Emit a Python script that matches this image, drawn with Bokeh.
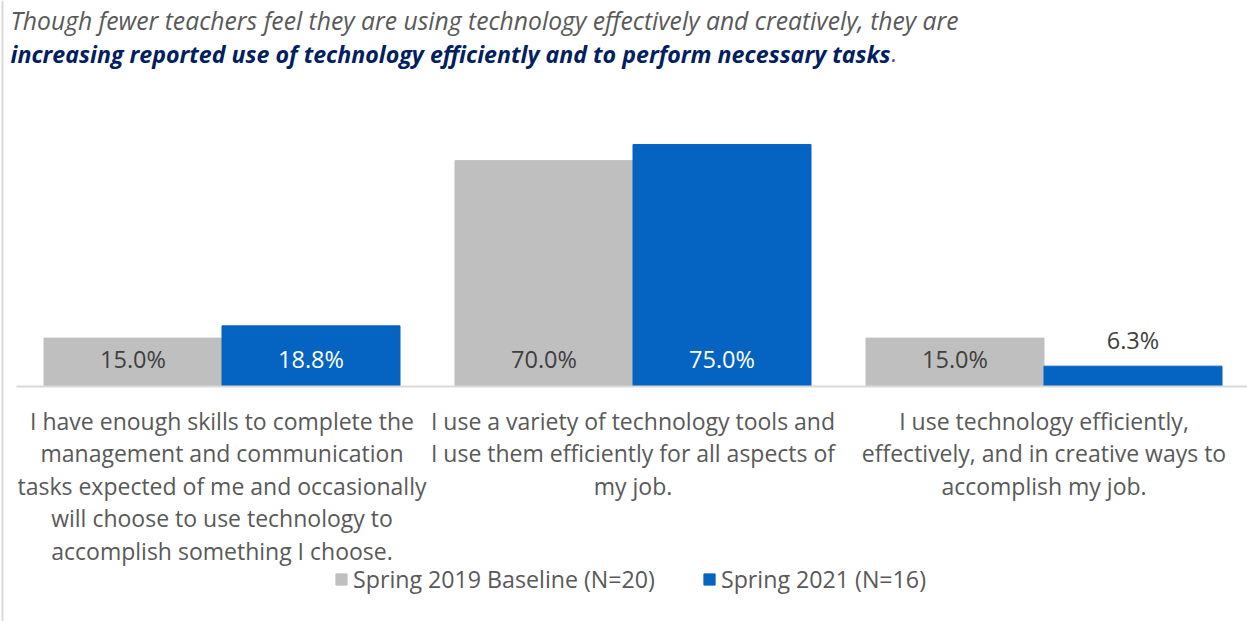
from bokeh.plotting import figure
from bokeh.models import Range1d, Label, ColumnDataSource, Legend, LegendItem
from bokeh.core.properties import value
from bokeh.embed import file_html
from bokeh.resources import INLINE

# ---- data ----
categories = [
    "I have enough skills to complete the\nmanagement and communication\ntasks expected of me and occasionally\nwill choose to use technology to\naccomplish something I choose.",
    "I use a variety of technology tools and\nI use them efficiently for all aspects of\nmy job.",
    "I use technology efficiently,\neffectively, and in creative ways to\naccomplish my job.",
]
series_names = ["Spring 2019 Baseline (N=20)", "Spring 2021 (N=16)"]
baseline_2019 = [15.0, 70.0, 15.0]
spring_2021 = [18.8, 75.0, 6.3]
title_line1 = "Though fewer teachers feel they are using technology effectively and creatively, they are"
title_line2 = "increasing reported use of technology efficiently and to perform necessary tasks"

# ---- styles ----
GREY = "#BFBFBF"
BLUE = "#0563C1"
TEXT = "#595959"
NAVY = "#002060"
FONT = "Open Sans"
W, H = 1247, 621
PX_PER_CAT = 411.0
X0_PX = 16.0
BASE_PX = 386.0
PX_PER_PCT = 3.227

x_start = -X0_PX / PX_PER_CAT
x_end = (W - X0_PX) / PX_PER_CAT
y_end = BASE_PX / PX_PER_PCT
y_start = -(H - BASE_PX) / PX_PER_PCT

p = figure(width=W, height=H, output_backend="svg", toolbar_location=None,
           x_range=Range1d(x_start, x_end), y_range=Range1d(y_start, y_end),
           min_border=0, min_border_left=0, min_border_right=0,
           min_border_top=0, min_border_bottom=0)
p.axis.visible = False
p.grid.visible = False
p.outline_line_color = None
p.background_fill_color = "white"

centers = [i + 0.5 for i in range(len(categories))]
off = 89.0 / PX_PER_CAT
bw = 178.0 / PX_PER_CAT

src1 = ColumnDataSource(dict(x=[c - off for c in centers], top=baseline_2019))
src2 = ColumnDataSource(dict(x=[c + off for c in centers], top=spring_2021))
r1 = p.vbar(x="x", top="top", width=bw, bottom=0, source=src1, fill_color=GREY, line_color=GREY)
r2 = p.vbar(x="x", top="top", width=bw, bottom=0, source=src2, fill_color=BLUE, line_color=BLUE)

# baseline and left border
p.segment(x0=[0], x1=[x_end], y0=[0], y1=[0], line_color="#D9D9D9", line_width=2)
p.segment(x0=[-14.0 / PX_PER_CAT], x1=[-14.0 / PX_PER_CAT], y0=[y_start], y1=[y_end],
          line_color="#D9D9D9", line_width=2)

# value labels
inside_y = 28.0 / PX_PER_PCT
def label_pos(v):
    return inside_y if v > 12 else v + 26.0 / PX_PER_PCT

p.text(x=[c - off for c in centers], y=[label_pos(v) for v in baseline_2019],
       text=[f"{v:.1f}%" for v in baseline_2019], text_align="center", text_baseline="middle",
       text_color="#404040", text_font=value(FONT), text_font_size="23.5px")
p.text(x=[c + off for c in centers], y=[label_pos(v) for v in spring_2021],
       text=[f"{v:.1f}%" for v in spring_2021], text_align="center", text_baseline="middle",
       text_color=["white" if v > 12 else "#404040" for v in spring_2021],
       text_font=value(FONT), text_font_size="23.5px")

# category labels
p.text(x=centers, y=[-(404.0 - BASE_PX) / PX_PER_PCT] * 3, text=categories,
       text_align="center", text_baseline="top", text_color=TEXT,
       text_font=value(FONT), text_font_size="23px", text_line_height=1.02)

# titles
p.add_layout(Label(x=10, y=H - 20, x_units="screen", y_units="screen", text=title_line1,
                   text_font=FONT, text_font_size="24.7px", text_font_style="italic",
                   text_color=TEXT, text_baseline="middle"))
p.add_layout(Label(x=10, y=H - 53, x_units="screen", y_units="screen", text=title_line2,
                   text_font=FONT, text_font_size="23.2px", text_font_style="bold italic",
                   text_color=NAVY, text_baseline="middle"))
p.add_layout(Label(x=891, y=H - 53, x_units="screen", y_units="screen", text=".",
                   text_font=FONT, text_font_size="23px", text_font_style="italic",
                   text_color=TEXT, text_baseline="middle"))

legend = Legend(items=[LegendItem(label=series_names[0], renderers=[r1]),
                       LegendItem(label=series_names[1], renderers=[r2])],
                orientation="horizontal", location=(334, 26),
                glyph_width=14, glyph_height=14, label_standoff=5, spacing=47,
                padding=0, margin=0, border_line_color=None, background_fill_alpha=0,
                label_text_font=FONT, label_text_font_size="23.2px", label_text_color=TEXT)
p.add_layout(legend, "center")

open("out.html", "w").write(file_html(p, INLINE))
